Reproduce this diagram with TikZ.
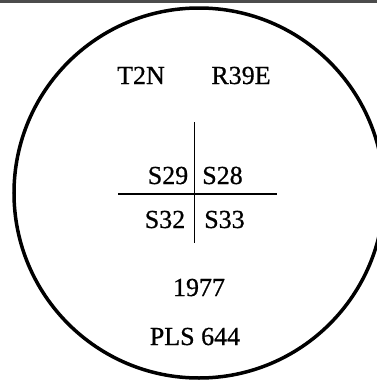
\documentclass[tikz,border=0pt]{standalone}
\usepackage{fontspec}
\setmainfont{Liberation Serif}[FakeBold=0.7]
\begin{document}
\begin{tikzpicture}[x=1pt,y=-1pt,
  lbl/.style={anchor=base,inner sep=0pt,font=\fontsize{26}{28}\selectfont},
  rule/.style={line width=1.3pt,black}]
\useasboundingbox (0,0) rectangle (377,381);
\clip (0,0) rectangle (377,381);
\draw[line width=2.5pt,gray!60!black] (0,1.5) -- (377,1.5);
\draw[line width=3.5pt] (199,193) circle[radius=185];
\node[lbl] (t) at (141,84) {T2N};
\node[lbl] (r) at (241,84) {R39E};
\coordinate (vt) at (194.5,122);
\coordinate (vb) at (194.5,243);
\coordinate (hl) at (118,194);
\coordinate (hr) at (277,194);
\draw[rule] (vt) -- (vb);
\draw[rule] (hl) -- (hr);
\node[lbl] (s29) at (168,184) {S29};
\node[lbl] (s28) at (222.5,184) {S28};
\node[lbl] (s32) at (165,228) {S32};
\node[lbl] (s33) at (224.5,228) {S33};
\node[lbl] (yr) at (199,296) {1977};
\node[lbl] (pls) at (195,345) {PLS 644};
\end{tikzpicture}
\end{document}
